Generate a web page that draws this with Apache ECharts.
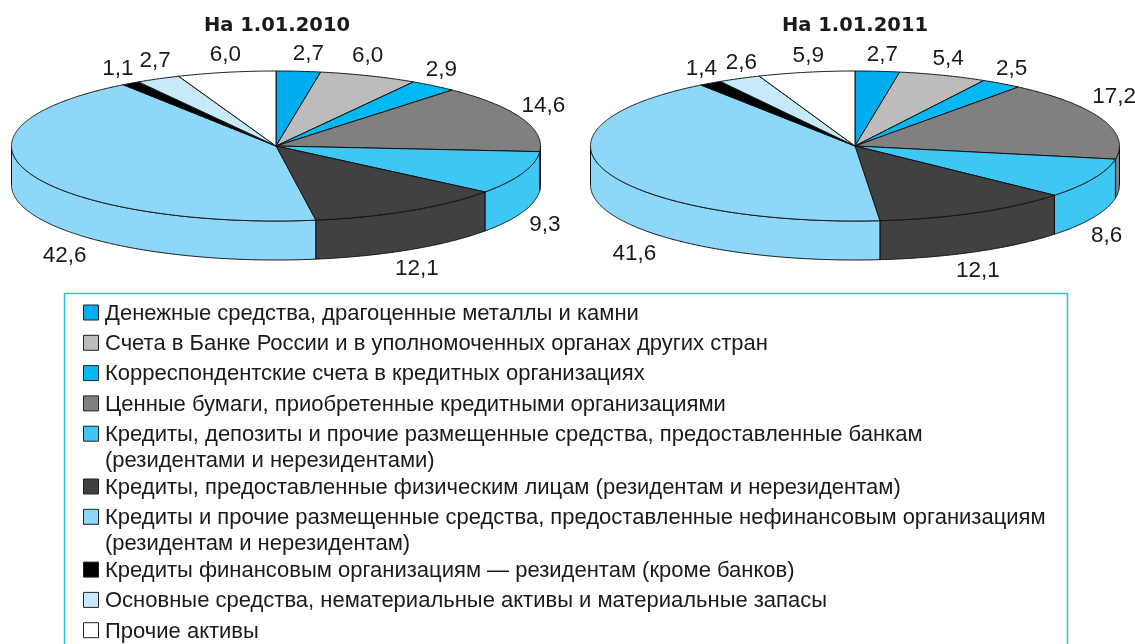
<!DOCTYPE html>
<html style="height: 100%">

<head>
    <meta charset="utf-8">
    <title>Структура активов</title>
</head>

<body style="height: 100%; margin: 0; background: #fff;">
    <div id="container" style="width: 1135px; height: 644px;"></div>
    <script src="https://cdn.jsdelivr.net/npm/echarts@6/dist/echarts.min.js"></script>
    <script type="text/javascript">
        var categories = [
            'Денежные средства, драгоценные металлы и камни',
            'Счета в Банке России и в уполномоченных органах других стран',
            'Корреспондентские счета в кредитных организациях',
            'Ценные бумаги, приобретенные кредитными организациями',
            'Кредиты, депозиты и прочие размещенные средства, предоставленные банкам\n(резидентами и нерезидентами)',
            'Кредиты, предоставленные физическим лицам (резидентам и нерезидентам)',
            'Кредиты и прочие размещенные средства, предоставленные нефинансовым организациям\n(резидентам и нерезидентам)',
            'Кредиты финансовым организациям — резидентам (кроме банков)',
            'Основные средства, нематериальные активы и материальные запасы',
            'Прочие активы'
        ];
        var colors = ['#00aeef', '#bcbcbc', '#00b9f2', '#808080', '#3ec6f4', '#414042', '#8dd8f8', '#000000', '#c7eafb', '#ffffff'];
        var values2010 = [2.7, 6.0, 2.9, 14.6, 9.3, 12.1, 42.6, 1.1, 2.7, 6.0];
        var values2011 = [2.7, 5.4, 2.5, 17.2, 8.6, 12.1, 41.6, 1.4, 2.6, 5.9];
        var titles = ['На 1.01.2010', 'На 1.01.2011'];

        // label offsets from the slice's mid point on the ellipse
        var nudge2010 = [[10, -17], [-1, -20], [8, -16], [22, -12], [22, 52], [7, 58], [34, 82], [-13, -15], [-3, -18], [-1, -18]];
        var nudge2011 = [[5, -16], [5, -16], [10, -15], [12, -22], [13, 57], [2, 58], [27, 82], [-9, -14], [2, -16], [2, -16]];

        var RX = 264.5, RY = 75, DEPTH = 39, CY = 146;
        var FONT = '"Liberation Sans", Arial, sans-serif';

        function pt(cx, cy, deg) {
            var t = deg * Math.PI / 180;
            return [cx + RX * Math.sin(t), cy - RY * Math.cos(t)];
        }

        function arc(cx, cy, from, to) {
            var pts = [];
            var n = Math.max(2, Math.ceil(Math.abs(to - from) * 3));
            for (var i = 0; i <= n; i++) {
                pts.push(pt(cx, cy, from + (to - from) * i / n));
            }
            return pts;
        }

        function makeRender(values, cx, nudge) {
            var total = 0;
            values.forEach(function (v) { total += v; });
            return function (params, api) {
                var i = params.dataIndex;
                var before = 0;
                for (var k = 0; k < i; k++) before += values[k];
                var a = before / total * 360;
                var b = (before + api.value(0)) / total * 360;
                var children = [];
                // side wall, only the front half shows
                var ra = Math.max(a, 90), rb = Math.min(b, 270);
                if (rb > ra) {
                    children.push({
                        type: 'polygon',
                        shape: { points: arc(cx, CY, ra, rb).concat(arc(cx, CY + DEPTH, rb, ra)) },
                        style: { fill: colors[i], stroke: '#111', lineWidth: 1 }
                    });
                }
                children.push({
                    type: 'polygon',
                    shape: { points: [[cx, CY]].concat(arc(cx, CY, a, b)) },
                    style: { fill: colors[i], stroke: '#111', lineWidth: 1 }
                });
                var mid = pt(cx, CY, (a + b) / 2);
                children.push({
                    type: 'text',
                    style: {
                        text: api.value(0).toFixed(1).replace('.', ','),
                        x: mid[0] + nudge[i][0],
                        y: mid[1] + nudge[i][1],
                        align: 'center',
                        verticalAlign: 'middle',
                        font: '22.5px ' + FONT,
                        fill: '#1a1a1a'
                    }
                });
                return { type: 'group', children: children };
            };
        }

        function legendGraphic() {
            var els = [{
                type: 'rect',
                shape: { x: 64.5, y: 293.5, width: 1003, height: 360 },
                style: { fill: '#fff', stroke: '#2cc0f0', lineWidth: 1.5 }
            }];
            var y = 305;
            categories.forEach(function (name, i) {
                var lines = name.split('\n').length;
                els.push({
                    type: 'rect',
                    shape: { x: 83.5, y: y, width: 15, height: 15 },
                    style: { fill: colors[i], stroke: '#222', lineWidth: 1 }
                });
                els.push({
                    type: 'text',
                    style: {
                        text: name,
                        x: 105,
                        y: y - 4,
                        font: '22px ' + FONT,
                        lineHeight: 25.5,
                        fill: '#1a1a1a'
                    }
                });
                y += 30.3 + (lines - 1) * 22.5;
            });
            return els;
        }

        var titleStyle = { fontFamily: 'DejaVu Sans', fontSize: 19.5, fontWeight: 'bold', color: '#1a1a1a' };
        var dom = document.getElementById("container");
        var myChart = echarts.init(dom);
        var option = {
            animation: false,
            title: [
                { text: titles[0], left: 272, top: 11, textAlign: 'center', textStyle: titleStyle },
                { text: titles[1], left: 850, top: 11, textAlign: 'center', textStyle: titleStyle }
            ],
            graphic: legendGraphic(),
            series: [
                { type: 'custom', name: titles[0], coordinateSystem: 'none', data: values2010, renderItem: makeRender(values2010, 276, nudge2010) },
                { type: 'custom', name: titles[1], coordinateSystem: 'none', data: values2011, renderItem: makeRender(values2011, 855, nudge2011) }
            ]
        };
        myChart.setOption(option, true);
    </script>
</body>

</html>
